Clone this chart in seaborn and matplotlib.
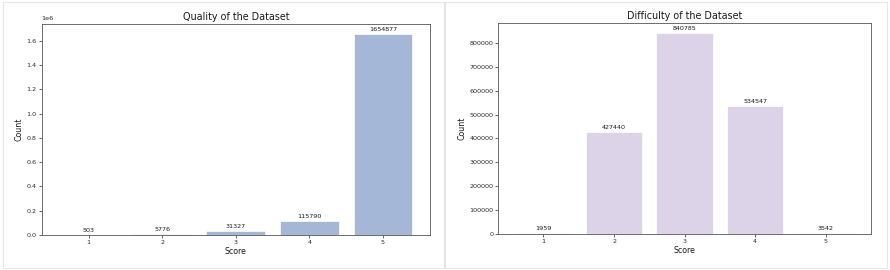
import matplotlib
matplotlib.use("Agg")
import matplotlib.pyplot as plt
import seaborn as sns
import pandas as pd
from matplotlib.patches import Rectangle

scores = [1, 2, 3, 4, 5]
quality_counts = [503, 5776, 31327, 115790, 1654877]
difficulty_counts = [1959, 427440, 840785, 534547, 3542]

quality_color = "#a5b7d7"
difficulty_color = "#dcd3e9"

sns.set_style("white")
plt.rcParams["font.family"] = ["DejaVu Sans"]

fig = plt.figure(figsize=(8.9, 2.7), dpi=100)
fig.patch.set_facecolor("white")

# panel frames (two screenshots side by side)
for x0, w in [(0.003, 0.496), (0.5, 0.497)]:
    fig.patches.append(Rectangle((x0, 0.008), w, 0.985, transform=fig.transFigure,
                                 facecolor="none", edgecolor="#e6e6e6", linewidth=0.8, zorder=-1))

W, H = 890, 270
def axes_rect(l, r, t, b):
    return [l / W, 1 - b / H, (r - l) / W, (b - t) / H]

ax1 = fig.add_axes(axes_rect(41.7, 430, 24.3, 235))
ax2 = fig.add_axes(axes_rect(498.3, 871, 23.3, 233.7))

def draw(ax, counts, color, title):
    df = pd.DataFrame({"Score": scores, "Count": counts})
    sns.barplot(data=df, x="Score", y="Count", color=color, saturation=1,
                edgecolor="white", linewidth=0.5, width=0.8, ax=ax)
    n = len(scores)
    ax.set_xlim(-0.4 - 0.24, n - 1 + 0.4 + 0.24)
    ax.set_ylim(0, max(counts) * 1.05)
    for c in ax.containers:
        ax.bar_label(c, labels=[str(v) for v in counts], fontsize=4.6, padding=1.5, color="#1a1a1a")
    ax.set_title(title, fontsize=6.9, pad=3, color="#1a1a1a")
    ax.set_xlabel("Score", fontsize=5.7, labelpad=1.5, color="#1a1a1a")
    ax.set_ylabel("Count", fontsize=5.7, labelpad=2, color="#1a1a1a")
    ax.tick_params(axis="both", labelsize=4.6, length=2, width=0.5, pad=1.5,
                   colors="#2a2a2a", bottom=True, left=True)
    for s in ax.spines.values():
        s.set_linewidth(0.6)
        s.set_color("#555555")

draw(ax1, quality_counts, quality_color, "Quality of the Dataset")
ax1.yaxis.get_offset_text().set_fontsize(4.6)
draw(ax2, difficulty_counts, difficulty_color, "Difficulty of the Dataset")
ax2.ticklabel_format(axis="y", style="plain")

fig.savefig("out.png", dpi=100, facecolor="white")
